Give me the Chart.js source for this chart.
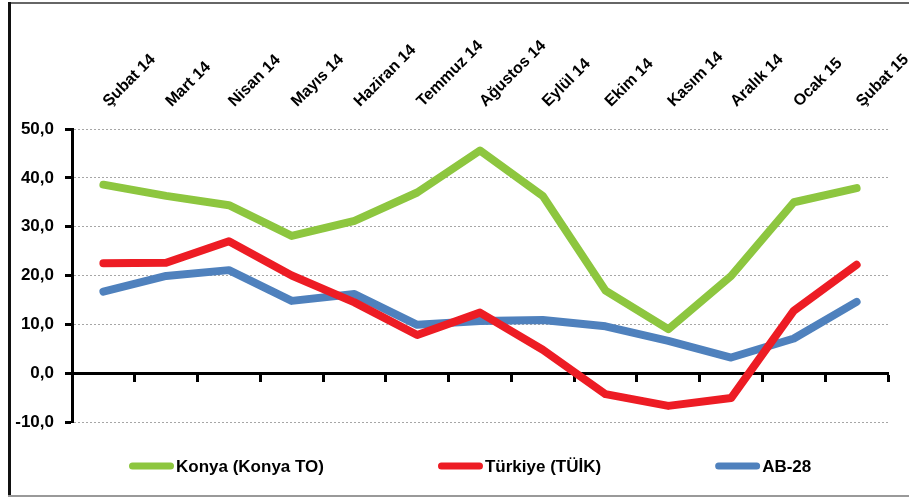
<!DOCTYPE html>
<html>
<head>
<meta charset="utf-8">
<script src="https://cdn.jsdelivr.net/npm/chart.js@4.4.1/dist/chart.umd.min.js"></script>
<style>
  html, body { margin: 0; padding: 0; background: #fff; }
  #wrap { position: relative; width: 909px; height: 497px; overflow: hidden; }
  #grafik { position: absolute; left: 0; top: 0; }
  .kenar { position: absolute; }
</style>
</head>
<body>
<div id="wrap">
  <canvas id="grafik" width="909" height="497"></canvas>
  <div class="kenar" style="left:8px;top:2px;width:901px;height:2px;background:#666"></div>
  <div class="kenar" style="left:8px;top:2px;width:3px;height:495px;background:#111"></div>
  <div class="kenar" style="left:8px;top:495px;width:901px;height:2px;background:#999"></div>
</div>
<script>
const aylar = ['Şubat 14', 'Mart 14', 'Nisan 14', 'Mayıs 14', 'Haziran 14', 'Temmuz 14', 'Ağustos 14',
               'Eylül 14', 'Ekim 14', 'Kasım 14', 'Aralık 14', 'Ocak 15', 'Şubat 15'];
const konya    = [38.6, 36.3, 34.4, 28.1, 31.2, 37.0, 45.6, 36.3, 16.9, 9.0, 19.9, 35.0, 37.9];
const turkiye  = [22.5, 22.6, 27.0, 20.0, 14.5, 7.8, 12.4, 4.8, -4.3, -6.7, -5.1, 12.8, 22.2];
const ab28     = [16.7, 19.9, 21.1, 14.8, 16.2, 9.9, 10.7, 10.9, 9.6, 6.6, 3.2, 7.1, 14.6];
const seriAdlari = ['Konya (Konya TO)', 'Türkiye (TÜİK)', 'AB-28'];
const yMin = -10, yMax = 50, yAdim = 10;

const renkler = ['#8dc63f', '#ed1c24', '#4f81bd'];
const yazi = "'Liberation Sans', Arial, sans-serif";

// legend drawn by hand: Excel spacing is wider than Chart.js allows
const altLejant = {
  id: 'altLejant',
  afterDraw(chart, args, opts) {
    const ctx = chart.ctx;
    ctx.save();
    ctx.font = opts.font;
    ctx.textBaseline = 'middle';
    ctx.textAlign = 'left';
    let x = opts.startX;
    chart.data.datasets.forEach(ds => {
      ctx.strokeStyle = ds.borderColor;
      ctx.lineWidth = opts.kalinlik;
      ctx.lineCap = 'round';
      ctx.beginPath();
      ctx.moveTo(x + opts.kalinlik / 2, opts.y);
      ctx.lineTo(x + opts.kutu - opts.kalinlik / 2, opts.y);
      ctx.stroke();
      ctx.fillStyle = '#000';
      ctx.fillText(ds.label, x + opts.kutu + 2, opts.y + 1);
      x += opts.kutu + 2 + ctx.measureText(ds.label).width + opts.bosluk;
    });
    ctx.restore();
  }
};

const seri = (i, veri) => ({
  label: seriAdlari[i],
  data: veri,
  borderColor: renkler[i],
  backgroundColor: renkler[i],
  borderWidth: 8,
  borderJoinStyle: 'round',
  borderCapStyle: 'round',
  pointRadius: 0,
  tension: 0
});

new Chart(document.getElementById('grafik'), {
  type: 'line',
  data: {
    labels: aylar,
    datasets: [seri(0, konya), seri(1, turkiye), seri(2, ab28)]
  },
  plugins: [altLejant],
  options: {
    responsive: false,
    animation: false,
    layout: { padding: { left: 0, top: 0, right: 21, bottom: 75 } },
    plugins: {
      legend: { display: false },
      tooltip: { enabled: false },
      altLejant: { startX: 129, y: 466, kutu: 45, kalinlik: 7, bosluk: 114, font: 'bold 17px ' + yazi }
    },
    scales: {
      x: {
        type: 'category',
        position: { y: 0 },
        offset: true,
        ticks: { display: false },
        grid: { offset: true, drawOnChartArea: false, drawTicks: true, tickLength: 7, tickWidth: 3, tickColor: '#000' },
        border: { display: true, color: '#000', width: 3 }
      },
      x2: {
        type: 'category',
        labels: aylar,
        position: 'top',
        offset: true,
        grid: { display: false },
        border: { display: false },
        ticks: {
          autoSkip: false, minRotation: 45, maxRotation: 45, padding: 10, labelOffset: 16,
          color: '#000', font: { family: yazi, size: 16, weight: 'bold' }
        },
        afterFit(s) { s.height = 129; s.paddingLeft = 0; s.paddingRight = 0; }
      },
      y: {
        min: yMin, max: yMax,
        ticks: {
          stepSize: yAdim, padding: 11, color: '#000',
          font: { family: yazi, size: 17, weight: 'bold' },
          callback: v => v.toFixed(1).replace('.', ',')
        },
        grid: { color: '#a6a6a6', lineWidth: 1, tickLength: 7, tickWidth: 3, tickColor: '#000' },
        border: { display: true, color: '#000', width: 3, dash: [2, 2] },
        afterFit(s) { s.width = 72; s.paddingTop = 0; s.paddingBottom = 0; }
      }
    }
  }
});
</script>
</body>
</html>
